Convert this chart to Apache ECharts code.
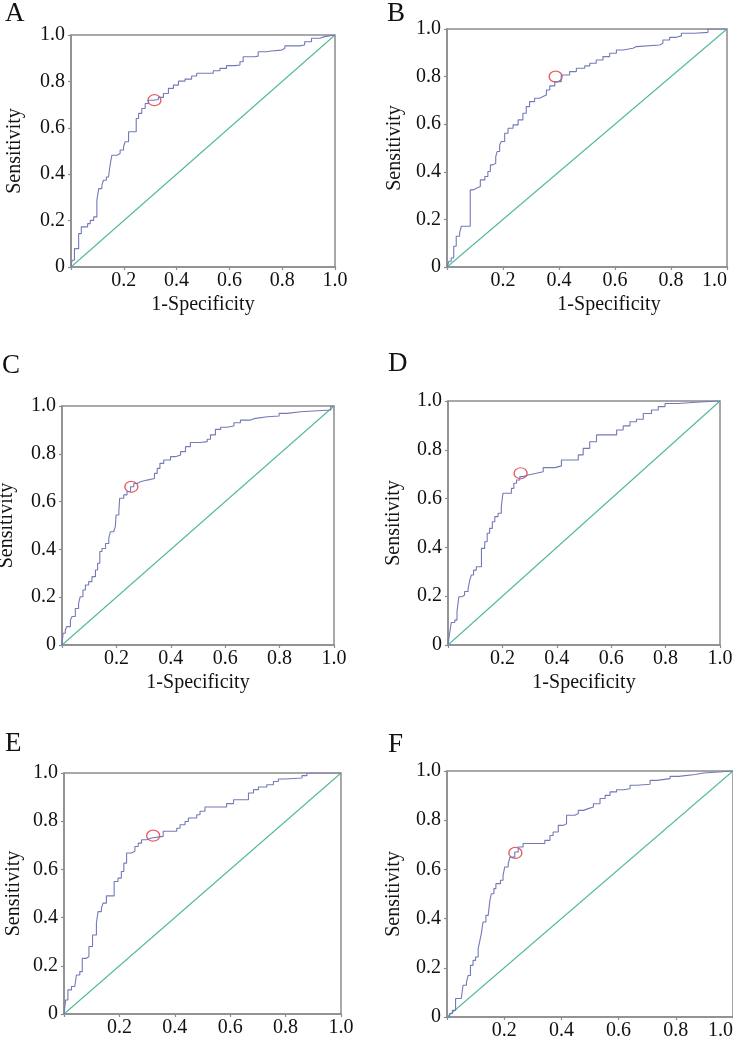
<!DOCTYPE html>
<html>
<head>
<meta charset="utf-8">
<script src="https://cdn.jsdelivr.net/npm/echarts@6/dist/echarts.min.js"></script>
<style>
  html, body { margin: 0; padding: 0; background: #fff; }
  #main { width: 733px; height: 1040px; }
</style>
</head>
<body>
<div id="main"></div>
<script>
// ROC curves: [1-specificity, sensitivity]
var rocA = [[0,0],[0.004,0.029],[0.013,0.079],[0.029,0.144],[0.039,0.173],[0.063,0.187],[0.073,0.201],[0.086,0.216],[0.098,0.288],[0.105,0.338],[0.117,0.353],[0.123,0.374],[0.134,0.388],[0.142,0.396],[0.149,0.446],[0.155,0.482],[0.174,0.489],[0.186,0.504],[0.199,0.518],[0.205,0.540],[0.218,0.583],[0.247,0.640],[0.256,0.662],[0.268,0.683],[0.281,0.705],[0.293,0.719],[0.312,0.722],[0.331,0.731],[0.350,0.748],[0.369,0.770],[0.388,0.784],[0.407,0.801],[0.432,0.810],[0.457,0.823],[0.476,0.835],[0.539,0.846],[0.564,0.856],[0.589,0.868],[0.621,0.871],[0.640,0.885],[0.652,0.906],[0.696,0.909],[0.709,0.928],[0.741,0.931],[0.759,0.935],[0.797,0.942],[0.810,0.953],[0.866,0.957],[0.885,0.971],[0.911,0.986],[0.942,0.993],[0.961,1.0],[1,1]];
var rocB = [[0,0],[0.007,0.024],[0.015,0.038],[0.024,0.087],[0.033,0.129],[0.045,0.143],[0.051,0.171],[0.083,0.324],[0.093,0.331],[0.105,0.338],[0.119,0.366],[0.135,0.380],[0.146,0.401],[0.155,0.429],[0.164,0.436],[0.174,0.464],[0.179,0.485],[0.188,0.513],[0.194,0.527],[0.206,0.562],[0.218,0.583],[0.236,0.597],[0.254,0.618],[0.271,0.646],[0.283,0.674],[0.295,0.695],[0.313,0.709],[0.331,0.716],[0.343,0.723],[0.355,0.744],[0.367,0.761],[0.385,0.779],[0.408,0.807],[0.438,0.821],[0.462,0.835],[0.492,0.845],[0.510,0.856],[0.533,0.870],[0.557,0.884],[0.581,0.898],[0.605,0.912],[0.629,0.919],[0.664,0.926],[0.676,0.933],[0.760,0.940],[0.771,0.954],[0.795,0.965],[0.819,0.971],[0.837,0.982],[0.885,0.986],[0.932,1.0],[1,1]];
var rocC = [[0,0],[0.004,0.049],[0.012,0.063],[0.018,0.077],[0.031,0.105],[0.037,0.119],[0.049,0.153],[0.061,0.174],[0.067,0.202],[0.077,0.230],[0.086,0.251],[0.098,0.265],[0.110,0.286],[0.123,0.314],[0.131,0.342],[0.139,0.391],[0.147,0.404],[0.160,0.425],[0.172,0.446],[0.178,0.474],[0.190,0.481],[0.196,0.495],[0.199,0.544],[0.209,0.558],[0.212,0.614],[0.227,0.628],[0.239,0.642],[0.252,0.662],[0.264,0.676],[0.276,0.683],[0.288,0.690],[0.313,0.697],[0.340,0.718],[0.350,0.739],[0.360,0.760],[0.374,0.774],[0.399,0.788],[0.417,0.795],[0.436,0.809],[0.454,0.830],[0.472,0.847],[0.509,0.851],[0.534,0.861],[0.546,0.879],[0.564,0.902],[0.583,0.911],[0.607,0.916],[0.632,0.930],[0.656,0.941],[0.693,0.947],[0.706,0.955],[0.755,0.958],[0.798,0.969],[0.828,0.976],[0.877,0.983],[0.988,1.0],[1,1]];
var rocD = [[0,0],[0.006,0.048],[0.012,0.092],[0.025,0.102],[0.033,0.137],[0.040,0.198],[0.053,0.205],[0.061,0.219],[0.074,0.232],[0.080,0.266],[0.086,0.287],[0.094,0.307],[0.104,0.321],[0.123,0.396],[0.135,0.423],[0.144,0.458],[0.153,0.478],[0.163,0.505],[0.172,0.526],[0.184,0.540],[0.196,0.567],[0.202,0.622],[0.233,0.642],[0.242,0.663],[0.252,0.676],[0.264,0.690],[0.276,0.697],[0.294,0.704],[0.325,0.710],[0.350,0.727],[0.393,0.734],[0.417,0.758],[0.479,0.779],[0.497,0.806],[0.521,0.833],[0.546,0.861],[0.620,0.881],[0.644,0.898],[0.669,0.915],[0.693,0.925],[0.718,0.949],[0.748,0.963],[0.773,0.977],[0.798,0.990],[0.847,0.996],[0.926,1.0],[1,1]];
var rocE = [[0,0],[0.006,0.058],[0.014,0.100],[0.027,0.114],[0.039,0.120],[0.045,0.162],[0.057,0.176],[0.066,0.231],[0.081,0.238],[0.090,0.280],[0.103,0.328],[0.117,0.377],[0.123,0.425],[0.135,0.439],[0.141,0.460],[0.153,0.490],[0.181,0.550],[0.195,0.564],[0.207,0.591],[0.216,0.626],[0.226,0.668],[0.244,0.675],[0.256,0.695],[0.268,0.709],[0.280,0.723],[0.298,0.730],[0.316,0.737],[0.358,0.758],[0.407,0.771],[0.419,0.785],[0.437,0.799],[0.449,0.813],[0.479,0.827],[0.491,0.841],[0.509,0.859],[0.587,0.873],[0.612,0.889],[0.666,0.917],[0.684,0.931],[0.702,0.942],[0.732,0.951],[0.756,0.965],[0.774,0.975],[0.799,0.979],[0.859,0.989],[0.877,1.0],[1,1]];
var rocF = [[0,0],[0.009,0.014],[0.019,0.027],[0.030,0.075],[0.050,0.081],[0.056,0.129],[0.068,0.142],[0.074,0.169],[0.082,0.210],[0.091,0.230],[0.100,0.244],[0.109,0.278],[0.114,0.305],[0.120,0.339],[0.126,0.386],[0.136,0.413],[0.144,0.420],[0.150,0.474],[0.155,0.501],[0.164,0.522],[0.171,0.542],[0.187,0.556],[0.196,0.576],[0.202,0.610],[0.214,0.623],[0.220,0.650],[0.237,0.671],[0.249,0.691],[0.266,0.705],[0.342,0.718],[0.360,0.738],[0.371,0.752],[0.389,0.779],[0.407,0.786],[0.418,0.820],[0.447,0.827],[0.459,0.840],[0.477,0.847],[0.494,0.854],[0.512,0.867],[0.535,0.888],[0.553,0.901],[0.570,0.915],[0.593,0.924],[0.617,0.928],[0.640,0.942],[0.664,0.946],[0.710,0.962],[0.734,0.969],[0.780,0.978],[0.810,0.986],[0.868,0.992],[0.897,0.996],[0.950,1.0],[1,1]];

// optimal cut-off points (red circles)
var cutA = [[0.316, 0.719]];
var cutB = [[0.388, 0.800]];
var cutC = [[0.255, 0.662]];
var cutD = [[0.267, 0.704]];
var cutE = [[0.322, 0.740]];
var cutF = [[0.239, 0.667]];

var diagonal = [[0, 0], [1, 1]];
var panelLetters = ['A', 'B', 'C', 'D', 'E', 'F'];
var xTitles = ['1-Specificity', '1-Specificity', '1-Specificity', '1-Specificity', '', ''];
var yTitle = 'Sensitivity';

var rocs = [rocA, rocB, rocC, rocD, rocE, rocF];
var cuts = [cutA, cutB, cutC, cutD, cutE, cutF];

// layout of each panel
var grids = [
  { left: 71, top: 35, width: 264, height: 232 },
  { left: 447, top: 29, width: 280, height: 238 },
  { left: 62, top: 406, width: 272, height: 239 },
  { left: 448, top: 401, width: 272, height: 244 },
  { left: 64, top: 773, width: 277, height: 241 },
  { left: 447, top: 771, width: 286, height: 246 }
];
var letterPos = [[5, 0], [387, 0], [2, 352], [388, 350], [5, 730], [388, 731]];
var yNameGap = [46, 42, 45, 44, 40, 43];
var xNamePad = [[0, 0, 0, 0], [0, 0, 0, 44], [0, 0, 0, 0], [0, 0, 0, 0], [0, 0, 0, 0], [0, 0, 0, 0]];
var maxLabelAlign = [null, 'right', null, null, null, 'right'];

var FONT = 'Liberation Serif';
var AXIS = '#8c8c8c';
var TEXT = '#111';

var chart = echarts.init(document.getElementById('main'));

var option = {
  backgroundColor: '#fff',
  animation: false,
  title: panelLetters.map(function (t, i) {
    return {
      text: t, left: letterPos[i][0], top: letterPos[i][1], padding: 0,
      textStyle: { fontFamily: FONT, fontSize: 27, fontWeight: 'normal', color: TEXT }
    };
  }),
  grid: grids.map(function (g) {
    return Object.assign({
      show: true, borderColor: AXIS, borderWidth: 1.5, backgroundColor: 'transparent',
      containLabel: false, outerBoundsMode: 'none'
    }, g);
  }),
  xAxis: grids.map(function (g, i) {
    return {
      type: 'value', gridIndex: i, min: 0, max: 1, interval: 0.2,
      name: xTitles[i], nameLocation: 'middle', nameGap: 28,
      nameTextStyle: { fontFamily: FONT, fontSize: 20, color: TEXT, padding: xNamePad[i] },
      axisLine: { show: true, lineStyle: { color: AXIS, width: 1.5 } },
      axisTick: { show: true, length: 3, lineStyle: { color: AXIS, width: 1.2 } },
      splitLine: { show: false },
      axisLabel: {
        fontFamily: FONT, fontSize: 20, color: TEXT, margin: 4,
        alignMaxLabel: maxLabelAlign[i],
        formatter: function (v) { return v === 0 ? '' : v.toFixed(1); }
      }
    };
  }),
  yAxis: grids.map(function (g, i) {
    return {
      type: 'value', gridIndex: i, min: 0, max: 1, interval: 0.2,
      name: yTitle, nameLocation: 'middle', nameGap: yNameGap[i], nameRotate: 90,
      nameTextStyle: { fontFamily: FONT, fontSize: 20, color: TEXT },
      axisLine: { show: true, lineStyle: { color: AXIS, width: 1.5 } },
      axisTick: { show: true, length: 3, lineStyle: { color: AXIS, width: 1.2 } },
      splitLine: { show: false },
      axisLabel: {
        fontFamily: FONT, fontSize: 20, color: TEXT, margin: 6,
        formatter: function (v) { return v === 0 ? '0' : v.toFixed(1); }
      }
    };
  }),
  series: []
};

rocs.forEach(function (roc, i) {
  option.series.push({
    type: 'line', xAxisIndex: i, yAxisIndex: i, data: diagonal,
    showSymbol: false, silent: true,
    lineStyle: { color: '#52b998', width: 1.1 }
  });
  option.series.push({
    type: 'line', xAxisIndex: i, yAxisIndex: i, data: roc, step: 'end',
    showSymbol: false, silent: true,
    lineStyle: { color: '#7479b8', width: 1.1 }
  });
  option.series.push({
    type: 'scatter', xAxisIndex: i, yAxisIndex: i, data: cuts[i],
    symbol: 'circle', symbolSize: [13, 11], silent: true,
    itemStyle: { color: 'rgba(0,0,0,0)', borderColor: '#e3343c', borderWidth: 1.3 }
  });
});

chart.setOption(option);
</script>
</body>
</html>
